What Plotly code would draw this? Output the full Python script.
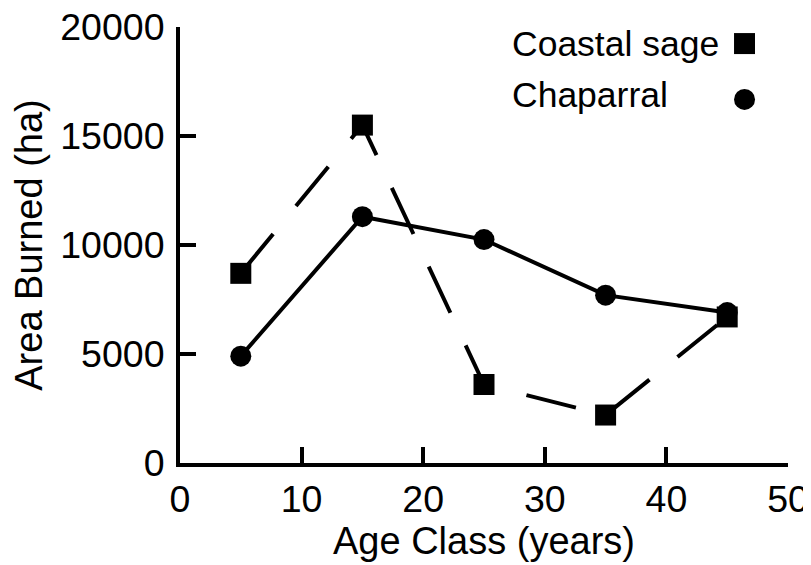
import plotly.graph_objects as go

age_class = [5, 15, 25, 35, 45]
coastal_sage = [8700, 15500, 3600, 2200, 6700]
chaparral = [4900, 11300, 10250, 7700, 6900]

x_ticks = [0, 10, 20, 30, 40, 50]
y_ticks = [0, 5000, 10000, 15000, 20000]

legend_names = ["Coastal sage", "Chaparral"]

FONT = "Liberation Sans, Arial, Helvetica, sans-serif"

fig = go.Figure()
fig.add_trace(go.Scatter(
    x=age_class, y=coastal_sage, mode="lines+markers", name=legend_names[0],
    line=dict(color="black", width=4, dash="51px,36px"),
    marker=dict(symbol="square", size=21, color="black"),
    showlegend=False, cliponaxis=False,
))
fig.add_trace(go.Scatter(
    x=age_class, y=chaparral, mode="lines+markers", name=legend_names[1],
    line=dict(color="black", width=4),
    marker=dict(symbol="circle", size=21, color="black"),
    showlegend=False, cliponaxis=False,
))

axis_common = dict(
    showgrid=False, zeroline=False, showline=True, linecolor="black", linewidth=4,
    ticks="inside", ticklen=16, tickwidth=4, tickcolor="black",
    tickfont=dict(family=FONT, size=37.5, color="black"),
    title_font=dict(family=FONT, size=38, color="black"),
    ticklabeloverflow="allow",
)

fig.update_xaxes(range=[0, 50], tickvals=x_ticks, ticktext=[str(v) for v in x_ticks],
                 title_text="Age Class (years)", title_standoff=6, **axis_common)
fig.update_yaxes(range=[0, 20000], tickvals=y_ticks, ticktext=[str(v) for v in y_ticks],
                 title_text="Area Burned (ha)", title_standoff=12, ticklabelstandoff=4,
                 **axis_common)

# Custom legend: text on the left, symbol on the right
legend_text_y = [0.962, 0.843]
legend_mark_y = [0.962, 0.834]
legend_symbols = ["rect", "circle"]
for name, ty, my, sym in zip(legend_names, legend_text_y, legend_mark_y, legend_symbols):
    fig.add_annotation(x=0.5428, y=ty, xref="paper", yref="paper", text=name,
                       showarrow=False, xanchor="left", yanchor="middle",
                       font=dict(family=FONT, size=35.5, color="black"))
    fig.add_shape(type=sym, xref="paper", yref="paper",
                  xsizemode="pixel", ysizemode="pixel",
                  xanchor=0.9285, yanchor=my, x0=-10.5, x1=10.5, y0=-10.5, y1=10.5,
                  fillcolor="black", line=dict(width=0))

# page body has an 8px margin, so the figure is shifted accordingly
fig.update_layout(
    width=803, height=557,
    margin=dict(l=172, r=23, t=19, b=102, autoexpand=False),
    plot_bgcolor="white", paper_bgcolor="white",
    font=dict(family=FONT, color="black"),
)

fig.write_html("out.html")
